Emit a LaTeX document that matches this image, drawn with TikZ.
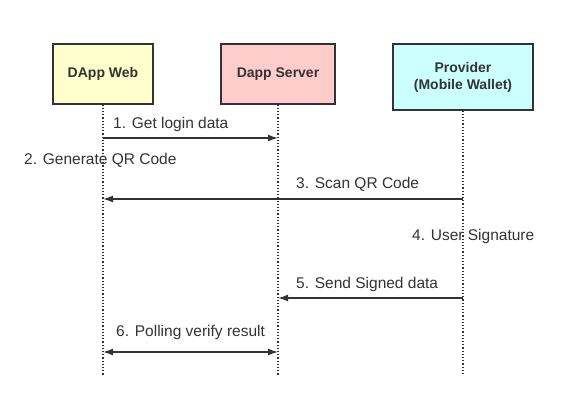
\documentclass[tikz,border=0pt]{standalone}
\usepackage{fontspec}
\setmainfont{Liberation Sans}
\usetikzlibrary{arrows.meta}
\definecolor{ink}{HTML}{333333}
\definecolor{webfill}{HTML}{FFFFCC}
\definecolor{srvfill}{HTML}{FFCCCC}
\definecolor{walfill}{HTML}{CCFFFF}
\tikzset{
  actor/.style={draw=ink, line width=1.3pt, text=ink, font=\fontsize{14}{17}\selectfont\bfseries, align=center, inner sep=0pt},
  lifeline/.style={draw=ink, line width=1.2pt, dotted},
  msg/.style={draw=ink, line width=1.4pt, -{Latex[length=10pt,width=7pt]}},
  msgboth/.style={draw=ink, line width=1.4pt, {Latex[length=10pt,width=7pt]}-{Latex[length=10pt,width=7pt]}},
  lbl/.style={text=ink, font=\fontsize{15.5}{18}\selectfont, inner sep=0pt, anchor=west}
}
\begin{document}
\begin{tikzpicture}[x=1pt,y=-1pt]
\useasboundingbox (0,0) rectangle (571,402);
\fill[white] (0,0) rectangle (571,402);
% actors
\node[actor, fill=webfill, minimum width=100pt, minimum height=60pt] (web) at (103,74) {DApp Web};
\node[actor, fill=srvfill, minimum width=114pt, minimum height=60pt] (srv) at (278,74) {Dapp Server};
\node[actor, fill=walfill, minimum width=140pt, minimum height=66pt] (wal) at (463,77) {Provider\\(Mobile Wallet)};
% lifeline ends
\coordinate (webend) at (103,375);
\coordinate (srvend) at (278,375);
\coordinate (walend) at (463,375);
\draw[lifeline] (web.south) -- (webend);
\draw[lifeline] (srv.south) -- (srvend);
\draw[lifeline] (wal.south) -- (walend);
% message points
\coordinate (w1) at (103,138); \coordinate (s1) at (278,138);
\coordinate (w3) at (103,199); \coordinate (p3) at (463,199);
\coordinate (s5) at (278,298); \coordinate (p5) at (463,298);
\coordinate (w6) at (103,352); \coordinate (s6) at (278,352);
\draw[msg] (w1) -- (s1);
\draw[msg] (p3) -- (w3);
\draw[msg] (p5) -- (s5);
\draw[msgboth] (w6) -- (s6);
% labels
\node[lbl] (l1) at (113,124) {1. Get login data};
\node[lbl] (l2) at (24,160) {2. Generate QR Code};
\node[lbl] (l3) at (296,184) {3. Scan QR Code};
\node[lbl] (l4) at (412,236) {4. User Signature};
\node[lbl] (l5) at (296,284) {5. Send Signed data};
\node[lbl] (l6) at (116,332) {6. Polling verify result};
\end{tikzpicture}
\end{document}
